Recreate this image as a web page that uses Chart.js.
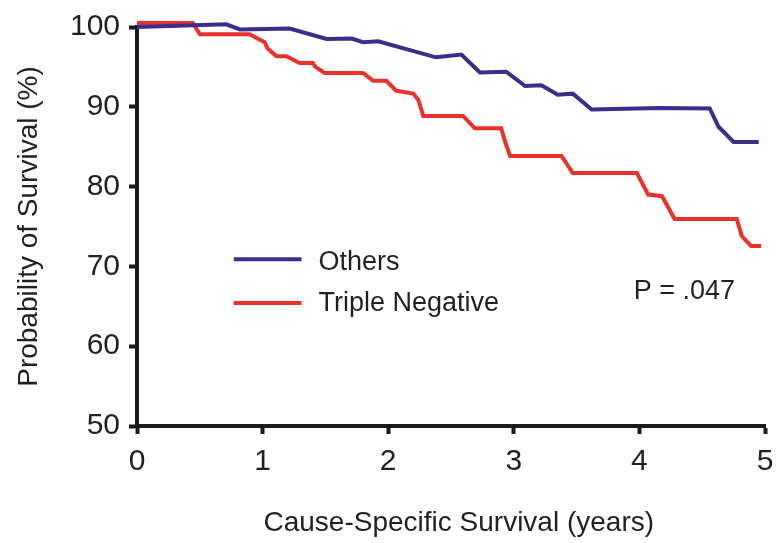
<!DOCTYPE html>
<html>
<head>
<meta charset="utf-8">
<script src="https://cdn.jsdelivr.net/npm/chart.js@4"></script>
<style>
  html, body { margin: 0; padding: 0; background: #fff; }
  #wrap { width: 776px; height: 543px; }
</style>
</head>
<body>
<div id="wrap"><canvas id="survival"></canvas></div>
<script>
// Kaplan-Meier style survival curves

// Others
const othersYears = [0, 0.71, 0.82, 1.215, 1.51, 1.71, 1.80, 1.92, 2.38, 2.583, 2.73, 2.94, 3.09, 3.22, 3.35, 3.47, 3.62, 4.16, 4.56, 4.63, 4.75, 4.95];
const othersSurvival = [100, 100.33, 99.7, 99.8, 98.5, 98.55, 98.1, 98.2, 96.2, 96.55, 94.3, 94.4, 92.6, 92.7, 91.5, 91.65, 89.65, 89.85, 89.8, 87.5, 85.6, 85.6];

// Triple negative
const tnYears = [0, 0.445, 0.5, 0.896, 1.016, 1.04, 1.11, 1.19, 1.295, 1.40, 1.42, 1.494, 1.80, 1.88, 1.985, 2.065, 2.20, 2.24, 2.28, 2.596, 2.69, 2.90, 2.93, 2.97, 3.38, 3.47, 3.98, 4.07, 4.18, 4.28, 4.775, 4.815, 4.89, 4.97];
const tnSurvival = [100.5, 100.5, 99.1, 99.1, 98.1, 97.3, 96.35, 96.35, 95.5, 95.5, 95.0, 94.25, 94.25, 93.25, 93.25, 92.0, 91.65, 90.85, 88.85, 88.85, 87.3, 87.3, 85.65, 83.85, 83.85, 81.7, 81.7, 79.0, 78.8, 75.95, 75.95, 73.8, 72.55, 72.55];

const seriesLabels = ['Others', 'Triple Negative'];
const xTicks = [0, 1, 2, 3, 4, 5];
const yTicks = [50, 60, 70, 80, 90, 100];
const pValueText = 'P = .047';

const BLUE = '#3a2d8c';
const RED = '#e8322a';
const INK = '#231f20';
const FONT = '"Liberation Sans", Arial, Helvetica, sans-serif';

function toPoints(xs, ys) {
    return xs.map((x, i) => ({ x: x, y: ys[i] }));
}

// Legend + p-value drawn inside the plot, placed in data coordinates
const insideLegend = {
    id: 'insideLegend',
    afterDatasetsDraw(chart) {
        const { ctx, scales } = chart;
        const xs = scales.x, ys = scales.y;
        const rows = [
            { label: seriesLabels[0], color: BLUE, v: 70.9, dy: 3 },
            { label: seriesLabels[1], color: RED, v: 65.4, dy: 0 }
        ];
        ctx.save();
        ctx.font = '27px ' + FONT;
        ctx.textBaseline = 'middle';
        ctx.fillStyle = INK;
        rows.forEach(r => {
            const py = ys.getPixelForValue(r.v);
            ctx.strokeStyle = r.color;
            ctx.lineWidth = 4;
            ctx.beginPath();
            ctx.moveTo(xs.getPixelForValue(0.77), py);
            ctx.lineTo(xs.getPixelForValue(1.31), py);
            ctx.stroke();
            ctx.fillText(r.label, xs.getPixelForValue(1.445), py + r.dy);
        });
        ctx.fillText(pValueText, xs.getPixelForValue(3.955), ys.getPixelForValue(66.8));
        ctx.restore();
    }
};

const axisLine = {
    display: true,
    drawOnChartArea: false,
    drawTicks: true,
    tickLength: 8,
    tickWidth: 4,
    tickColor: '#1a1a1a'
};

new Chart(document.getElementById('survival'), {
    type: 'line',
    data: {
        datasets: [
            {
                label: seriesLabels[0],
                data: toPoints(othersYears, othersSurvival),
                borderColor: BLUE,
                borderWidth: 4,
                pointRadius: 0,
                tension: 0,
                clip: 8
            },
            {
                label: seriesLabels[1],
                data: toPoints(tnYears, tnSurvival),
                borderColor: RED,
                borderWidth: 4,
                pointRadius: 0,
                tension: 0,
                clip: 8
            }
        ]
    },
    options: {
        responsive: true,
        maintainAspectRatio: false,
        animation: false,
        layout: {
            padding: { top: 27, right: 11, left: 0, bottom: 0 }
        },
        plugins: {
            legend: { display: false },
            tooltip: { enabled: false }
        },
        scales: {
            x: {
                type: 'linear',
                min: 0,
                max: 5,
                afterBuildTicks: s => { s.ticks = xTicks.map(v => ({ value: v })); },
                afterFit: s => {
                    s.height = 117;
                    // let the "5" label hang past the plot edge like the original
                    s.paddingLeft = 0;
                    s.paddingRight = 0;
                },
                grid: axisLine,
                border: { display: true, width: 4, color: '#1a1a1a' },
                ticks: {
                    color: INK,
                    padding: 10,
                    font: { family: FONT, size: 30 }
                },
                title: {
                    display: true,
                    text: '\u00a0\u00a0Cause-Specific Survival (years)',
                    color: INK,
                    font: { family: FONT, size: 28 },
                    padding: { top: 0, bottom: 3 }
                }
            },
            y: {
                type: 'linear',
                min: 50,
                max: 100,
                afterBuildTicks: s => { s.ticks = yTicks.map(v => ({ value: v })); },
                afterFit: s => { s.width = 137; },
                grid: axisLine,
                border: { display: true, width: 4, color: '#1a1a1a' },
                ticks: {
                    color: INK,
                    padding: 9,
                    font: { family: FONT, size: 30 }
                },
                title: {
                    display: true,
                    text: 'Probability of Survival (%)',
                    color: INK,
                    font: { family: FONT, size: 28 },
                    padding: { top: 12, bottom: 0 }
                }
            }
        }
    },
    plugins: [insideLegend]
});
</script>
</body>
</html>
